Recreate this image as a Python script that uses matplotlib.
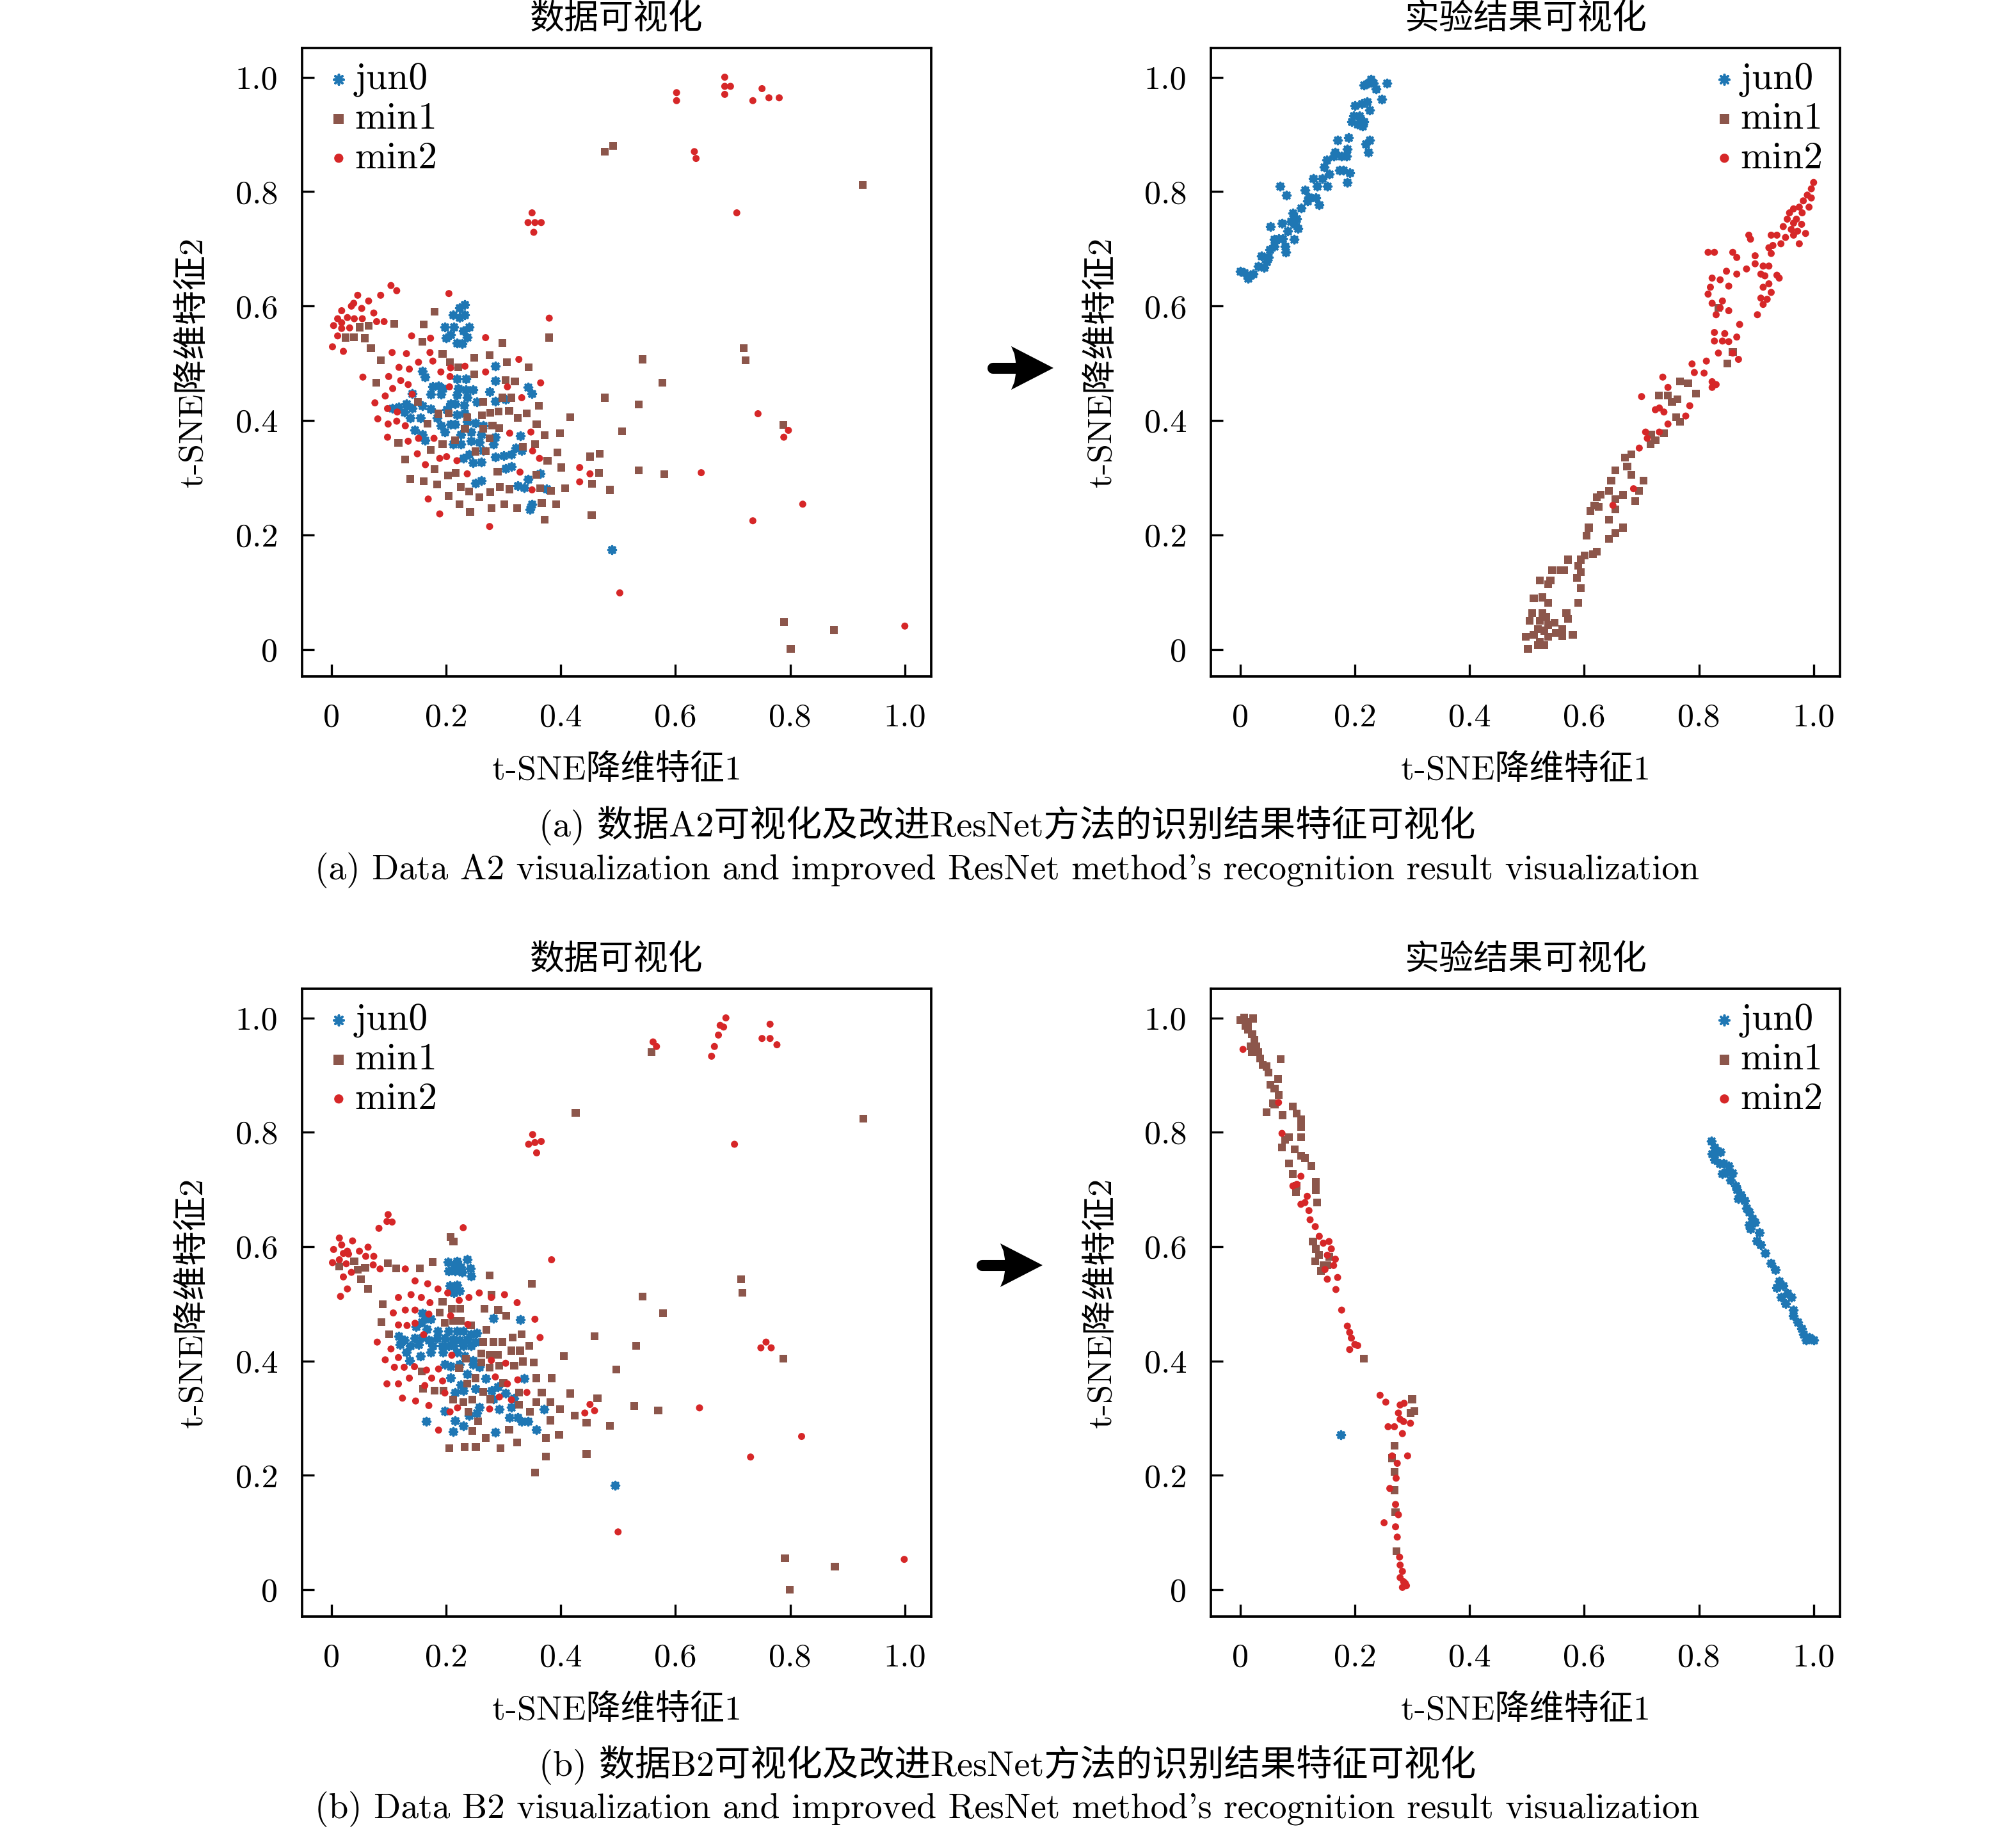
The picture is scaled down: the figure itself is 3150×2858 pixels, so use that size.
import matplotlib
matplotlib.use("Agg")
import matplotlib.pyplot as plt
from matplotlib.lines import Line2D
from matplotlib.patches import Polygon

# 数据A2 原始特征 (t-SNE)
a2_data_jun0 = [
    (0.233, 0.603), (0.223, 0.597), (0.212, 0.585), (0.233, 0.585), (0.223, 0.580), (0.198, 0.563),
    (0.214, 0.563), (0.240, 0.563), (0.208, 0.550), (0.230, 0.557), (0.200, 0.544), (0.237, 0.546),
    (0.219, 0.536), (0.228, 0.534),
    (0.159, 0.486), (0.163, 0.476), (0.286, 0.495), (0.286, 0.470), (0.219, 0.473), (0.235, 0.473),
    (0.177, 0.460), (0.187, 0.461), (0.194, 0.456), (0.221, 0.456), (0.235, 0.454), (0.247, 0.454),
    (0.276, 0.451), (0.343, 0.458), (0.350, 0.447), (0.141, 0.447), (0.173, 0.446), (0.191, 0.446),
    (0.219, 0.445), (0.237, 0.440), (0.254, 0.433), (0.216, 0.429), (0.208, 0.429), (0.231, 0.427),
    (0.286, 0.434), (0.304, 0.437), (0.106, 0.422), (0.117, 0.424), (0.131, 0.429), (0.141, 0.422),
    (0.159, 0.426), (0.173, 0.420), (0.201, 0.419), (0.219, 0.410), (0.233, 0.412), (0.127, 0.415),
    (0.138, 0.405), (0.155, 0.405), (0.184, 0.405), (0.191, 0.391), (0.208, 0.394), (0.216, 0.394),
    (0.237, 0.398), (0.251, 0.396), (0.265, 0.391), (0.145, 0.383), (0.159, 0.376), (0.198, 0.380),
    (0.226, 0.376), (0.244, 0.380), (0.261, 0.376), (0.286, 0.371), (0.329, 0.373), (0.163, 0.366),
    (0.212, 0.359), (0.226, 0.359), (0.244, 0.364), (0.258, 0.362), (0.283, 0.359), (0.322, 0.352),
    (0.332, 0.348), (0.240, 0.341), (0.265, 0.348), (0.300, 0.339), (0.314, 0.341), (0.230, 0.334),
    (0.247, 0.327), (0.261, 0.328), (0.286, 0.337), (0.314, 0.320), (0.304, 0.316), (0.343, 0.297),
    (0.364, 0.307), (0.251, 0.291), (0.261, 0.295), (0.325, 0.286), (0.336, 0.283), (0.375, 0.281),
    (0.350, 0.254), (0.346, 0.245), (0.489, 0.174),
]
a2_data_min1 = [
    (0.180, 0.590), (0.161, 0.568), (0.110, 0.569), (0.065, 0.566), (0.049, 0.563), (0.025, 0.545),
    (0.039, 0.546), (0.058, 0.544), (0.069, 0.527), (0.159, 0.538), (0.298, 0.536), (0.194, 0.517),
    (0.249, 0.510), (0.276, 0.514), (0.086, 0.505), (0.207, 0.502), (0.221, 0.493), (0.306, 0.502),
    (0.344, 0.493), (0.380, 0.545), (0.543, 0.507), (0.719, 0.527), (0.722, 0.505), (0.078, 0.466),
    (0.249, 0.481), (0.304, 0.471), (0.320, 0.468), (0.577, 0.466), (0.477, 0.440), (0.298, 0.440),
    (0.314, 0.440), (0.265, 0.433), (0.362, 0.426), (0.536, 0.428), (0.151, 0.433), (0.187, 0.412),
    (0.205, 0.413), (0.277, 0.414), (0.292, 0.416), (0.263, 0.409), (0.237, 0.406), (0.310, 0.417),
    (0.341, 0.413), (0.325, 0.405), (0.417, 0.406), (0.168, 0.395), (0.233, 0.386), (0.265, 0.386),
    (0.281, 0.391), (0.293, 0.387), (0.358, 0.394), (0.399, 0.378), (0.372, 0.375), (0.507, 0.381),
    (0.788, 0.392), (0.117, 0.361), (0.194, 0.359), (0.216, 0.366), (0.276, 0.369), (0.173, 0.349),
    (0.251, 0.346), (0.269, 0.347), (0.334, 0.354), (0.355, 0.359), (0.394, 0.344), (0.129, 0.332),
    (0.377, 0.330), (0.451, 0.337), (0.468, 0.342), (0.180, 0.315), (0.203, 0.304), (0.217, 0.309),
    (0.290, 0.311), (0.357, 0.305), (0.401, 0.318), (0.467, 0.309), (0.536, 0.313), (0.581, 0.306),
    (0.138, 0.298), (0.161, 0.294), (0.184, 0.288), (0.226, 0.284), (0.240, 0.276), (0.277, 0.275),
    (0.294, 0.284), (0.311, 0.280), (0.364, 0.282), (0.383, 0.277), (0.408, 0.282), (0.455, 0.290),
    (0.486, 0.279), (0.205, 0.268), (0.258, 0.266), (0.224, 0.254), (0.279, 0.247), (0.302, 0.254),
    (0.324, 0.247), (0.367, 0.256), (0.392, 0.254), (0.242, 0.240), (0.372, 0.227), (0.454, 0.235),
    (0.789, 0.048), (0.876, 0.034), (0.801, 0.001), (0.927, 0.812), (0.477, 0.870), (0.491, 0.880),
]
a2_data_min2 = [
    (0.002, 0.529), (0.021, 0.521), (0.011, 0.548), (0.004, 0.566), (0.011, 0.578), (0.018, 0.571),
    (0.018, 0.561), (0.018, 0.592), (0.028, 0.580), (0.032, 0.562), (0.035, 0.600), (0.039, 0.605),
    (0.040, 0.578), (0.053, 0.596), (0.054, 0.578), (0.046, 0.619), (0.065, 0.609), (0.074, 0.588),
    (0.086, 0.619), (0.092, 0.573), (0.079, 0.573), (0.104, 0.636), (0.114, 0.627), (0.205, 0.622),
    (0.380, 0.579), (0.140, 0.548), (0.173, 0.544), (0.269, 0.545), (0.106, 0.519), (0.131, 0.517),
    (0.172, 0.519), (0.118, 0.493), (0.136, 0.490), (0.152, 0.502), (0.177, 0.504), (0.191, 0.485),
    (0.208, 0.492), (0.233, 0.495), (0.269, 0.485), (0.327, 0.507), (0.055, 0.476), (0.100, 0.477),
    (0.121, 0.470), (0.134, 0.463), (0.107, 0.456), (0.206, 0.459), (0.207, 0.477), (0.307, 0.459),
    (0.332, 0.440), (0.365, 0.466), (0.094, 0.443), (0.141, 0.446), (0.076, 0.431), (0.098, 0.421),
    (0.115, 0.415), (0.099, 0.394), (0.081, 0.403), (0.114, 0.399), (0.129, 0.391), (0.179, 0.369),
    (0.098, 0.371), (0.134, 0.364), (0.152, 0.369), (0.311, 0.378), (0.348, 0.380), (0.150, 0.342),
    (0.189, 0.334), (0.201, 0.337), (0.219, 0.330), (0.363, 0.334), (0.351, 0.347), (0.164, 0.323),
    (0.329, 0.310), (0.237, 0.307), (0.433, 0.318), (0.451, 0.307), (0.433, 0.293), (0.350, 0.279),
    (0.169, 0.263), (0.189, 0.237), (0.276, 0.215), (0.744, 0.412), (0.797, 0.383), (0.789, 0.371),
    (0.645, 0.309), (0.822, 0.254), (0.735, 0.225), (0.503, 0.099), (1.000, 0.041), (0.707, 0.763),
    (0.350, 0.763), (0.343, 0.746), (0.355, 0.746), (0.366, 0.746), (0.353, 0.729), (0.602, 0.973),
    (0.602, 0.959), (0.633, 0.870), (0.636, 0.858), (0.686, 1.000), (0.686, 0.984), (0.696, 0.984),
    (0.686, 0.970), (0.735, 0.959), (0.751, 0.980), (0.763, 0.964), (0.781, 0.964),
]

# 数据A2 改进ResNet识别结果特征
a2_result_jun0 = [
    (0.000, 0.661), (0.007, 0.658), (0.014, 0.649), (0.018, 0.654), (0.023, 0.656), (0.032, 0.670),
    (0.037, 0.688), (0.042, 0.668), (0.046, 0.678), (0.049, 0.685), (0.052, 0.699), (0.053, 0.739),
    (0.059, 0.704), (0.060, 0.717), (0.067, 0.718), (0.069, 0.809), (0.073, 0.745), (0.074, 0.718),
    (0.078, 0.704), (0.080, 0.694), (0.081, 0.794), (0.083, 0.731), (0.088, 0.748), (0.092, 0.763),
    (0.095, 0.743), (0.099, 0.752), (0.101, 0.736), (0.094, 0.717), (0.106, 0.772), (0.113, 0.803),
    (0.117, 0.784), (0.120, 0.791), (0.127, 0.823), (0.132, 0.789), (0.134, 0.809), (0.138, 0.777),
    (0.143, 0.823), (0.146, 0.843), (0.151, 0.855), (0.152, 0.809), (0.155, 0.831), (0.163, 0.862),
    (0.166, 0.869), (0.170, 0.890), (0.173, 0.837), (0.177, 0.862), (0.180, 0.837), (0.186, 0.862),
    (0.187, 0.874), (0.189, 0.894), (0.187, 0.816), (0.191, 0.833), (0.194, 0.922), (0.198, 0.933),
    (0.200, 0.950), (0.205, 0.918), (0.208, 0.933), (0.212, 0.954), (0.214, 0.915), (0.216, 0.922),
    (0.219, 0.883), (0.223, 0.869), (0.226, 0.890), (0.216, 0.986), (0.223, 0.989), (0.228, 0.996),
    (0.233, 0.989), (0.237, 0.979), (0.221, 0.957), (0.226, 0.943), (0.247, 0.961), (0.256, 0.989),
]
a2_result_min1 = [
    (0.834, 0.597), (0.859, 0.520), (0.850, 0.500), (0.767, 0.468), (0.781, 0.465), (0.746, 0.444),
    (0.730, 0.444), (0.753, 0.433), (0.763, 0.437), (0.795, 0.447), (0.767, 0.398), (0.760, 0.406),
    (0.717, 0.376), (0.739, 0.378), (0.724, 0.366), (0.716, 0.359), (0.682, 0.341), (0.671, 0.335),
    (0.675, 0.320), (0.654, 0.313), (0.682, 0.305), (0.703, 0.295), (0.696, 0.277), (0.689, 0.259),
    (0.668, 0.270), (0.647, 0.295), (0.643, 0.277), (0.629, 0.271), (0.622, 0.266), (0.618, 0.252),
    (0.625, 0.249), (0.654, 0.263), (0.654, 0.245), (0.643, 0.227), (0.668, 0.213), (0.654, 0.203),
    (0.643, 0.193), (0.611, 0.242), (0.608, 0.213), (0.604, 0.199), (0.622, 0.171), (0.615, 0.167),
    (0.601, 0.164), (0.594, 0.157), (0.590, 0.146), (0.572, 0.157), (0.565, 0.139), (0.558, 0.139),
    (0.594, 0.135), (0.587, 0.125), (0.594, 0.107), (0.590, 0.082), (0.544, 0.139), (0.541, 0.121),
    (0.523, 0.121), (0.537, 0.114), (0.512, 0.089), (0.527, 0.091), (0.537, 0.082), (0.509, 0.064),
    (0.527, 0.064), (0.534, 0.057), (0.523, 0.050), (0.537, 0.043), (0.548, 0.047), (0.505, 0.050),
    (0.519, 0.036), (0.530, 0.033), (0.569, 0.064), (0.572, 0.054), (0.562, 0.036), (0.580, 0.026),
    (0.562, 0.023), (0.551, 0.029), (0.537, 0.022), (0.523, 0.013), (0.519, 0.008), (0.530, 0.008),
    (0.498, 0.022), (0.502, 0.001), (0.512, 0.026),
]
a2_result_min2 = [
    (1.000, 0.816), (0.996, 0.805), (0.989, 0.794), (0.996, 0.789), (0.982, 0.784), (0.992, 0.773),
    (0.975, 0.773), (0.965, 0.770), (0.958, 0.763), (0.980, 0.763), (0.970, 0.752), (0.954, 0.752),
    (0.965, 0.745), (0.979, 0.743), (0.947, 0.739), (0.961, 0.734), (0.972, 0.731), (0.986, 0.727),
    (0.975, 0.709), (0.965, 0.724), (0.951, 0.720), (0.936, 0.724), (0.926, 0.724), (0.943, 0.709),
    (0.929, 0.706), (0.922, 0.702), (0.887, 0.724), (0.890, 0.717), (0.898, 0.688), (0.926, 0.692),
    (0.898, 0.674), (0.912, 0.670), (0.922, 0.670), (0.908, 0.656), (0.915, 0.653), (0.936, 0.654),
    (0.940, 0.649), (0.922, 0.639), (0.912, 0.633), (0.926, 0.624), (0.908, 0.614), (0.919, 0.612),
    (0.912, 0.603), (0.902, 0.585), (0.816, 0.694), (0.827, 0.694), (0.859, 0.694), (0.866, 0.685),
    (0.883, 0.665), (0.848, 0.661), (0.866, 0.656), (0.823, 0.649), (0.837, 0.646), (0.852, 0.635),
    (0.820, 0.633), (0.816, 0.621), (0.841, 0.609), (0.823, 0.605), (0.837, 0.597), (0.830, 0.585),
    (0.852, 0.592), (0.871, 0.568), (0.827, 0.554), (0.845, 0.552), (0.866, 0.546), (0.827, 0.539),
    (0.841, 0.539), (0.852, 0.538), (0.834, 0.518), (0.869, 0.507), (0.859, 0.518), (0.813, 0.504),
    (0.788, 0.499), (0.792, 0.484), (0.809, 0.483), (0.823, 0.468), (0.830, 0.463), (0.823, 0.458),
    (0.737, 0.476), (0.746, 0.458), (0.700, 0.442), (0.724, 0.419), (0.731, 0.422), (0.739, 0.415),
    (0.784, 0.426), (0.777, 0.408), (0.746, 0.394), (0.707, 0.380), (0.731, 0.380), (0.710, 0.369),
    (0.696, 0.352), (0.686, 0.281), (0.650, 0.252),
]

# 数据B2 原始特征 (t-SNE)
b2_data_jun0 = [
    (0.203, 0.573), (0.219, 0.574), (0.237, 0.578), (0.214, 0.569), (0.226, 0.564), (0.242, 0.562),
    (0.205, 0.557), (0.216, 0.557), (0.228, 0.555), (0.244, 0.548), (0.207, 0.532), (0.219, 0.533),
    (0.216, 0.525), (0.224, 0.523), (0.214, 0.519),
    (0.159, 0.484), (0.166, 0.475), (0.173, 0.473), (0.283, 0.475), (0.329, 0.472), (0.158, 0.468),
    (0.148, 0.460), (0.167, 0.455), (0.186, 0.452), (0.205, 0.452), (0.219, 0.452), (0.230, 0.452),
    (0.244, 0.447), (0.254, 0.449), (0.117, 0.443), (0.127, 0.436), (0.145, 0.440), (0.159, 0.441),
    (0.170, 0.436), (0.184, 0.440), (0.198, 0.440), (0.212, 0.438), (0.224, 0.436), (0.237, 0.438),
    (0.120, 0.429), (0.138, 0.426), (0.152, 0.429), (0.177, 0.427), (0.193, 0.427), (0.205, 0.426),
    (0.214, 0.426), (0.230, 0.426), (0.244, 0.426), (0.251, 0.433), (0.131, 0.415), (0.155, 0.408),
    (0.173, 0.415), (0.194, 0.415), (0.219, 0.415), (0.233, 0.408), (0.247, 0.401), (0.136, 0.401),
    (0.198, 0.394), (0.208, 0.391), (0.223, 0.394), (0.247, 0.394), (0.258, 0.390), (0.237, 0.377),
    (0.208, 0.370), (0.226, 0.358), (0.230, 0.348), (0.251, 0.351), (0.269, 0.369), (0.216, 0.345),
    (0.279, 0.348), (0.290, 0.355), (0.336, 0.369), (0.304, 0.344), (0.318, 0.335), (0.283, 0.333),
    (0.198, 0.312), (0.258, 0.319), (0.254, 0.309), (0.240, 0.304), (0.293, 0.316), (0.314, 0.319),
    (0.371, 0.316), (0.311, 0.301), (0.325, 0.301), (0.332, 0.294), (0.343, 0.294), (0.216, 0.296),
    (0.212, 0.277), (0.230, 0.287), (0.166, 0.294), (0.286, 0.275), (0.357, 0.280), (0.495, 0.182),
]
b2_data_min1 = [
    (0.208, 0.617), (0.213, 0.609), (0.426, 0.834), (0.558, 0.940), (0.928, 0.824), (0.014, 0.565),
    (0.040, 0.574), (0.046, 0.560), (0.059, 0.563), (0.052, 0.543), (0.064, 0.526), (0.099, 0.571),
    (0.113, 0.562), (0.154, 0.562), (0.177, 0.573), (0.276, 0.550), (0.350, 0.535), (0.715, 0.543),
    (0.717, 0.519), (0.543, 0.513), (0.578, 0.484), (0.459, 0.443), (0.532, 0.426), (0.788, 0.404),
    (0.405, 0.409), (0.497, 0.385), (0.090, 0.499), (0.087, 0.468), (0.101, 0.447), (0.194, 0.504),
    (0.189, 0.485), (0.210, 0.491), (0.225, 0.491), (0.198, 0.467), (0.212, 0.470), (0.226, 0.470),
    (0.244, 0.462), (0.267, 0.491), (0.291, 0.489), (0.279, 0.516), (0.305, 0.479), (0.270, 0.454),
    (0.316, 0.441), (0.332, 0.447), (0.345, 0.426), (0.265, 0.433), (0.283, 0.433), (0.298, 0.433),
    (0.314, 0.418), (0.329, 0.418), (0.261, 0.413), (0.276, 0.411), (0.290, 0.411), (0.353, 0.397),
    (0.235, 0.404), (0.223, 0.387), (0.261, 0.397), (0.276, 0.388), (0.293, 0.392), (0.319, 0.392),
    (0.334, 0.399), (0.158, 0.382), (0.251, 0.370), (0.237, 0.360), (0.300, 0.362), (0.357, 0.370),
    (0.384, 0.370), (0.160, 0.351), (0.180, 0.348), (0.196, 0.348), (0.212, 0.332), (0.230, 0.328),
    (0.239, 0.311), (0.246, 0.332), (0.277, 0.333), (0.265, 0.346), (0.327, 0.345), (0.327, 0.323),
    (0.346, 0.311), (0.357, 0.328), (0.382, 0.328), (0.367, 0.345), (0.399, 0.316), (0.417, 0.343),
    (0.424, 0.304), (0.382, 0.296), (0.464, 0.335), (0.445, 0.292), (0.486, 0.287), (0.528, 0.321),
    (0.570, 0.313), (0.246, 0.278), (0.269, 0.265), (0.310, 0.280), (0.256, 0.294), (0.206, 0.247),
    (0.232, 0.250), (0.252, 0.250), (0.295, 0.247), (0.324, 0.257), (0.374, 0.265), (0.397, 0.271),
    (0.374, 0.233), (0.355, 0.205), (0.445, 0.237), (0.791, 0.055), (0.878, 0.040), (0.799, 0.000),
]
b2_data_min2 = [
    (0.004, 0.595), (0.014, 0.615), (0.018, 0.603), (0.028, 0.592), (0.037, 0.610), (0.021, 0.588),
    (0.030, 0.587), (0.049, 0.592), (0.064, 0.599), (0.060, 0.583), (0.074, 0.583), (0.002, 0.572),
    (0.014, 0.577), (0.026, 0.570), (0.021, 0.547), (0.035, 0.555), (0.028, 0.526), (0.016, 0.513),
    (0.073, 0.568), (0.085, 0.561), (0.083, 0.632), (0.099, 0.656), (0.097, 0.644), (0.106, 0.643),
    (0.230, 0.633), (0.384, 0.577), (0.129, 0.561), (0.146, 0.540), (0.168, 0.535), (0.186, 0.526),
    (0.117, 0.511), (0.139, 0.516), (0.157, 0.511), (0.172, 0.502), (0.203, 0.519), (0.223, 0.506),
    (0.240, 0.511), (0.258, 0.519), (0.279, 0.511), (0.302, 0.516), (0.324, 0.502), (0.108, 0.484),
    (0.129, 0.489), (0.146, 0.489), (0.170, 0.482), (0.117, 0.463), (0.132, 0.462), (0.146, 0.466),
    (0.161, 0.446), (0.208, 0.479), (0.238, 0.464), (0.355, 0.473), (0.364, 0.441), (0.080, 0.433),
    (0.104, 0.421), (0.117, 0.406), (0.094, 0.402), (0.110, 0.389), (0.127, 0.389), (0.145, 0.390),
    (0.166, 0.384), (0.136, 0.370), (0.187, 0.386), (0.210, 0.410), (0.279, 0.401), (0.304, 0.396),
    (0.097, 0.360), (0.117, 0.360), (0.175, 0.370), (0.194, 0.365), (0.163, 0.357), (0.286, 0.372),
    (0.307, 0.360), (0.325, 0.367), (0.124, 0.335), (0.147, 0.330), (0.170, 0.322), (0.198, 0.344),
    (0.207, 0.311), (0.220, 0.318), (0.276, 0.316), (0.314, 0.332), (0.341, 0.345), (0.293, 0.337),
    (0.187, 0.279), (0.451, 0.324), (0.442, 0.309), (0.459, 0.313), (0.642, 0.318), (0.749, 0.423),
    (0.758, 0.433), (0.767, 0.423), (0.820, 0.268), (0.731, 0.232), (0.500, 0.101), (0.999, 0.053),
    (0.703, 0.779), (0.344, 0.779), (0.355, 0.782), (0.366, 0.784), (0.351, 0.796), (0.358, 0.764),
    (0.561, 0.958), (0.567, 0.950), (0.663, 0.933), (0.668, 0.950), (0.675, 0.970), (0.678, 0.987),
    (0.684, 0.984), (0.688, 1.000), (0.751, 0.964), (0.765, 0.964), (0.765, 0.989), (0.777, 0.953),
]

# 数据B2 改进ResNet识别结果特征
b2_result_jun0 = [
    (0.822, 0.785), (0.827, 0.773), (0.823, 0.762), (0.830, 0.766), (0.837, 0.766), (0.827, 0.752),
    (0.836, 0.745), (0.843, 0.745), (0.852, 0.741), (0.848, 0.730), (0.841, 0.727), (0.859, 0.729),
    (0.855, 0.716), (0.864, 0.706), (0.866, 0.699), (0.873, 0.691), (0.869, 0.684), (0.880, 0.681),
    (0.883, 0.667), (0.887, 0.660), (0.893, 0.649), (0.898, 0.642), (0.887, 0.638), (0.890, 0.631),
    (0.905, 0.624), (0.901, 0.610), (0.908, 0.603), (0.915, 0.589), (0.926, 0.571), (0.933, 0.560),
    (0.940, 0.539), (0.936, 0.528), (0.947, 0.532), (0.954, 0.518), (0.943, 0.511), (0.961, 0.511),
    (0.951, 0.500), (0.965, 0.489), (0.965, 0.479), (0.972, 0.468), (0.979, 0.457), (0.982, 0.447),
    (0.992, 0.441), (1.000, 0.436), (0.987, 0.436), (0.175, 0.271),
]
b2_result_min1 = [
    (0.000, 0.996), (0.007, 1.000), (0.014, 0.993), (0.023, 0.999), (0.009, 0.986), (0.014, 0.979),
    (0.021, 0.972), (0.025, 0.961), (0.028, 0.950), (0.018, 0.950), (0.032, 0.940), (0.021, 0.940),
    (0.035, 0.929), (0.039, 0.918), (0.071, 0.928), (0.046, 0.915), (0.049, 0.904), (0.066, 0.893),
    (0.053, 0.883), (0.060, 0.876), (0.067, 0.865), (0.057, 0.851), (0.046, 0.835), (0.060, 0.848),
    (0.092, 0.845), (0.074, 0.830), (0.099, 0.833), (0.106, 0.823), (0.106, 0.809), (0.106, 0.791),
    (0.085, 0.791), (0.078, 0.787), (0.073, 0.773), (0.095, 0.770), (0.106, 0.759), (0.113, 0.755),
    (0.124, 0.741), (0.085, 0.745), (0.092, 0.727), (0.097, 0.695), (0.099, 0.706), (0.132, 0.713),
    (0.132, 0.699), (0.134, 0.677), (0.127, 0.609), (0.132, 0.596), (0.138, 0.585), (0.131, 0.574),
    (0.145, 0.567), (0.152, 0.567), (0.155, 0.582), (0.141, 0.557), (0.216, 0.404), (0.300, 0.333),
    (0.304, 0.312), (0.297, 0.309), (0.269, 0.252), (0.265, 0.230), (0.269, 0.206), (0.269, 0.174),
    (0.271, 0.135), (0.273, 0.067),
]
b2_result_min2 = [
    (0.005, 0.945), (0.067, 0.852), (0.073, 0.798), (0.092, 0.706), (0.099, 0.709), (0.106, 0.723),
    (0.117, 0.688), (0.113, 0.677), (0.106, 0.674), (0.120, 0.663), (0.122, 0.647), (0.131, 0.635),
    (0.138, 0.618), (0.145, 0.606), (0.155, 0.609), (0.159, 0.596), (0.152, 0.585), (0.166, 0.578),
    (0.163, 0.567), (0.148, 0.560), (0.152, 0.543), (0.170, 0.546), (0.167, 0.525), (0.177, 0.489),
    (0.187, 0.461), (0.191, 0.450), (0.194, 0.440), (0.200, 0.429), (0.205, 0.427), (0.191, 0.420),
    (0.244, 0.340), (0.254, 0.328), (0.279, 0.323), (0.286, 0.326), (0.276, 0.309), (0.279, 0.298),
    (0.258, 0.285), (0.269, 0.285), (0.283, 0.273), (0.285, 0.294), (0.297, 0.291), (0.265, 0.234),
    (0.274, 0.221), (0.292, 0.234), (0.272, 0.195), (0.261, 0.177), (0.271, 0.149), (0.276, 0.131),
    (0.251, 0.117), (0.271, 0.110), (0.274, 0.092), (0.278, 0.057), (0.279, 0.043), (0.283, 0.032),
    (0.279, 0.021), (0.285, 0.014), (0.288, 0.011), (0.283, 0.004), (0.290, 0.007),
]

tick_values = [0, 0.2, 0.4, 0.6, 0.8, 1.0]
tick_labels = ['0', '0.2', '0.4', '0.6', '0.8', '1.0']
class_names = ['jun0', 'min1', 'min2']
class_colors = ['#1f77b4', '#8c564b', '#d62728']

plt.rcParams['font.family'] = ['cmr10', 'Noto Sans CJK SC', 'DejaVu Sans']
plt.rcParams['axes.formatter.use_mathtext'] = True
plt.rcParams['axes.unicode_minus'] = False

fig = plt.figure(figsize=(10.5, 9.5267), dpi=300)
W, H = 3150.0, 2858.0


def draw_panel(rect, series, title, legend_loc, legend_anchor):
    ax = fig.add_axes(rect)
    for pts, name, col in zip(series, class_names, class_colors):
        xs = [p[0] for p in pts]
        ys = [p[1] for p in pts]
        if name == 'jun0':
            ax.scatter(xs, ys, s=8, marker=(8, 2, 0), linewidths=0.9, color=col, label=name)
        elif name == 'min1':
            ax.scatter(xs, ys, s=8.5, marker='s', color=col, edgecolors='none', label=name)
        else:
            ax.scatter(xs, ys, s=7, marker='o', color=col, edgecolors='none', label=name)
    ax.set_xlim(-0.051, 1.046)
    ax.set_ylim(-0.047, 1.051)
    ax.set_xticks(tick_values)
    ax.set_xticklabels(tick_labels)
    ax.set_yticks(tick_values)
    ax.set_yticklabels(tick_labels)
    ax.tick_params(direction='in', length=4.5, width=0.8, labelsize=12.5, top=False, right=False)
    ax.tick_params(axis='x', pad=10)
    ax.tick_params(axis='y', pad=9)
    for sp in ax.spines.values():
        sp.set_linewidth(0.9)
    ax.set_xlabel('t-SNE降维特征1', fontsize=13, va='center')
    ax.xaxis.set_label_coords(0.5, -0.149)
    ax.set_ylabel('t-SNE降维特征2', fontsize=13, va='center')
    ax.yaxis.set_label_coords(-0.174, 0.5)
    ax.text(0.5, 1.046, title, transform=ax.transAxes, ha='center', va='center', fontsize=13)
    ax.legend(loc=legend_loc, bbox_to_anchor=legend_anchor, frameon=False, fontsize=14.3,
              handlelength=0.34, handletextpad=0.25, labelspacing=0.13, borderaxespad=0.0,
              borderpad=0.0, markerscale=1.3)
    return ax


ax_rects = [
    [472 / W, 1 - 1057 / H, 983 / W, 982 / H],
    [1892 / W, 1 - 1057 / H, 983 / W, 982 / H],
    [472 / W, 1 - 2526 / H, 983 / W, 981 / H],
    [1892 / W, 1 - 2526 / H, 983 / W, 981 / H],
]

draw_panel(ax_rects[0], [a2_data_jun0, a2_data_min1, a2_data_min2], '数据可视化', 'upper left', (0.048, 0.977))
draw_panel(ax_rects[1], [a2_result_jun0, a2_result_min1, a2_result_min2], '实验结果可视化', 'upper right', (0.973, 0.977))
draw_panel(ax_rects[2], [b2_data_jun0, b2_data_min1, b2_data_min2], '数据可视化', 'upper left', (0.048, 0.977))
draw_panel(ax_rects[3], [b2_result_jun0, b2_result_min1, b2_result_min2], '实验结果可视化', 'upper right', (0.973, 0.977))


# arrows between the panels: round-capped shaft plus a head with a curved back
def draw_arrow(x_tail, x_tip, yc):
    def fx(px):
        return px / W

    def fy(py):
        return 1 - py / H

    shaft = Line2D([fx(x_tail + 8), fx(x_tip - 55)], [fy(yc), fy(yc)], transform=fig.transFigure,
                   lw=4.1, color='black', solid_capstyle='round')
    fig.lines.append(shaft)
    head = [(x_tip, yc), (x_tip - 66, yc - 34), (x_tip - 61, yc - 22), (x_tip - 59, yc - 10),
            (x_tip - 58.5, yc), (x_tip - 59, yc + 10), (x_tip - 61, yc + 22), (x_tip - 66, yc + 34)]
    poly = Polygon([(fx(a), fy(b)) for a, b in head], closed=True, transform=fig.transFigure,
                   facecolor='black', edgecolor='none')
    fig.patches.append(poly)


draw_arrow(1543, 1646, 575)
draw_arrow(1526, 1629, 1977)

# captions
cx = 1574 / W
fig.text(cx, 1 - 1290 / H, '(a) 数据A2可视化及改进ResNet方法的识别结果特征可视化', ha='center', va='center', fontsize=13.5)
fig.text(cx, 1 - 1360 / H, "(a) Data A2 visualization and improved ResNet method's recognition result visualization",
         ha='center', va='center', fontsize=13.3)
fig.text(cx, 1 - 2758 / H, '(b) 数据B2可视化及改进ResNet方法的识别结果特征可视化', ha='center', va='center', fontsize=13.5)
fig.text(cx, 1 - 2827 / H, "(b) Data B2 visualization and improved ResNet method's recognition result visualization",
         ha='center', va='center', fontsize=13.3)

fig.savefig('out.png', dpi=300)
